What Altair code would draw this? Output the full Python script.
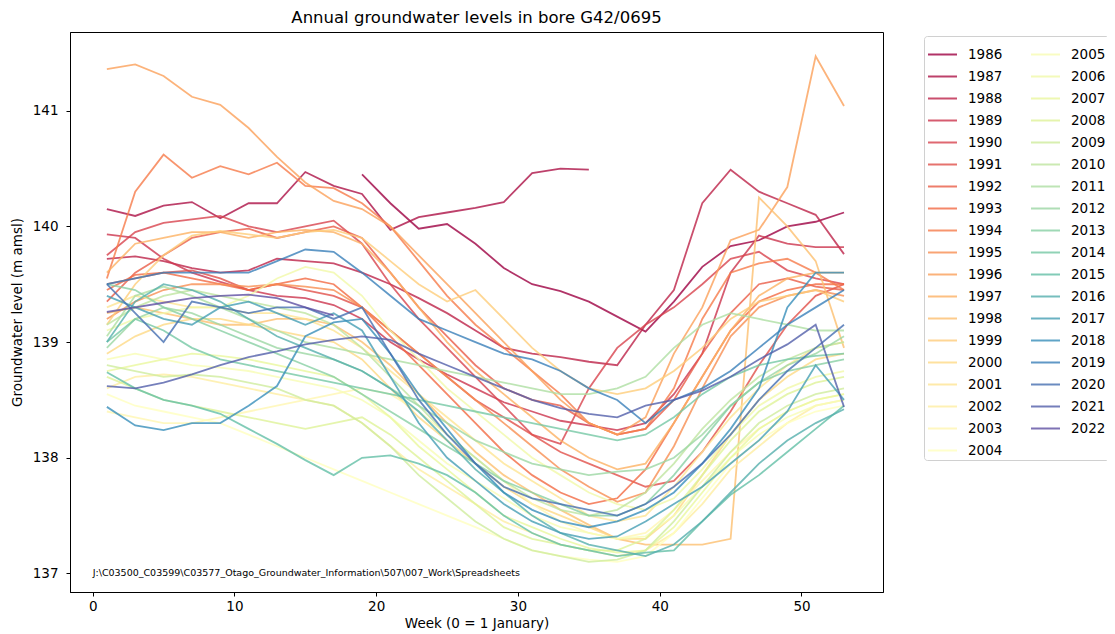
import altair as alt
import pandas as pd

WEEKS = [1, 3, 5, 7, 9, 11, 13, 15, 17, 19, 21, 23, 25, 27, 29, 31, 33, 35, 37, 39, 41, 43, 45, 47, 49, 51, 53]
YEARS = list(range(1986, 2023))

L1986 = [None]*9 + [140.45,140.2,139.98,140.02,139.85,139.64,139.5,139.44,139.35,139.22,139.09,139.35,139.65,139.83,139.88,140.0,140.04,140.12]
L1987 = [140.15,140.09,140.18,140.21,140.07,140.2,140.2,140.47,140.35,140.28,139.97,140.08,140.12,140.16,140.21,140.46,140.5,140.49] + [None]*9
L1988 = [139.72,139.74,139.7,139.64,139.6,139.62,139.72,139.7,139.68,139.6,139.5,139.38,139.25,139.1,138.95,138.9,138.87,138.83,138.8,139.15,139.45,140.2,140.49,140.3,140.2,140.1,139.76]
L1989 = [139.93,139.9,139.72,139.6,139.52,139.45,139.4,139.38,139.32,139.2,139.0,138.85,138.72,138.6,138.48,138.4,138.32,138.28,138.24,138.3,138.55,138.9,139.6,139.92,139.85,139.82,139.82]
L1990 = [139.75,139.95,140.03,140.06,140.09,140.0,139.95,140.0,140.05,139.85,139.5,139.2,138.95,138.7,138.45,138.2,138.12,138.6,138.95,139.15,139.3,139.5,139.72,139.78,139.62,139.55,139.5]
L1991 = [139.5,139.55,139.6,139.62,139.55,139.45,139.5,139.45,139.4,139.3,139.1,138.9,138.7,138.5,138.35,138.2,138.05,137.95,137.85,137.75,137.8,138.05,138.4,138.8,139.15,139.4,139.5]
L1992 = [139.35,139.6,139.75,139.9,139.95,139.98,139.9,139.95,140.0,139.9,139.6,139.3,139.05,138.8,138.6,138.5,138.45,138.3,138.2,138.25,138.5,138.9,139.25,139.5,139.55,139.48,139.45]
L1993 = [139.45,139.58,139.6,139.55,139.5,139.45,139.5,139.55,139.5,139.3,139.05,138.8,138.55,138.3,138.05,137.85,137.7,137.6,137.65,137.9,138.3,138.7,139.1,139.35,139.45,139.5,139.5]
L1994 = [139.55,140.3,140.62,140.42,140.52,140.45,140.55,140.35,140.33,140.2,140.0,139.7,139.4,139.15,138.95,138.75,138.55,138.3,138.2,138.25,138.6,139.2,139.6,139.68,139.72,139.6,139.45]
L1995 = [139.2,139.35,139.45,139.5,139.5,139.48,139.5,139.48,139.45,139.3,139.1,138.9,138.7,138.5,138.3,138.1,137.9,137.75,137.62,137.7,138.1,138.6,139.05,139.3,139.4,139.45,139.4]
L1996 = [141.36,141.4,141.3,141.12,141.05,140.85,140.6,140.38,140.22,140.15,140.0,139.75,139.5,139.25,139.0,138.75,138.5,138.3,138.2,138.35,138.9,139.3,139.88,139.97,140.34,141.47,141.04]
L1997 = [139.6,139.85,139.9,139.95,139.95,139.9,139.95,139.97,139.95,139.85,139.6,139.3,139.0,138.75,138.55,138.35,138.15,138.0,137.9,137.95,138.3,138.7,139.1,139.4,139.55,139.6,139.6]
L1998 = [139.25,139.3,139.25,139.2,139.15,139.15,139.2,139.2,139.15,139.0,138.8,138.55,138.3,138.05,137.85,137.7,137.55,137.42,137.3,137.25,137.25,137.25,137.3,140.25,140.0,139.7,138.95]
L1999 = [139.15,139.5,139.75,139.92,139.96,139.93,139.9,139.95,139.97,139.9,139.7,139.5,139.35,139.45,139.2,138.95,138.75,138.6,138.55,138.6,138.75,138.95,139.2,139.35,139.4,139.45,139.35]
L2000 = [138.9,139.05,139.15,139.2,139.2,139.15,139.1,139.05,139.0,138.85,138.6,138.35,138.15,137.95,137.75,137.6,137.5,137.4,137.3,137.3,137.5,137.85,138.2,138.5,138.7,138.85,138.9]
L2001 = [139.3,139.4,139.35,139.3,139.3,139.25,139.25,139.2,139.1,138.95,138.75,138.55,138.35,138.15,137.95,137.8,137.65,137.5,137.45,137.5,137.75,138.05,138.35,138.6,138.8,138.95,139.0]
L2002 = [138.6,138.7,138.72,138.7,138.65,138.6,138.55,138.5,138.45,138.3,138.1,137.9,137.75,137.6,137.45,137.35,137.25,137.2,137.15,137.2,137.35,137.6,137.9,138.1,138.3,138.45,138.5]
L2003 = [138.4,138.35,138.3,138.3,138.35,138.4,138.45,138.5,138.55,138.6,138.55,138.4,138.2,138.0,137.8,137.6,137.45,137.35,137.3,137.35,137.55,137.8,138.05,138.25,138.4,138.5,138.55]
L2004 = [138.55,138.45,138.4,138.35,138.3,138.2,138.1,138.0,137.9,137.8,137.7,137.6,137.5,137.4,137.3,137.2,137.15,137.12,137.1,137.15,137.35,137.65,137.95,138.15,138.3,138.4,138.45]
L2005 = [138.85,138.9,138.85,138.8,138.78,138.75,138.7,138.65,138.6,138.5,138.35,138.15,137.95,137.8,137.65,137.5,137.4,137.35,137.3,137.32,137.5,137.75,138.0,138.2,138.35,138.45,138.5]
L2006 = [139.1,139.2,139.25,139.3,139.3,139.4,139.55,139.65,139.6,139.4,139.1,138.85,138.6,138.4,138.2,138.0,137.85,137.7,137.6,137.55,137.65,137.9,138.2,138.45,138.6,138.7,138.75]
L2007 = [138.75,138.8,138.85,138.9,138.88,138.85,138.8,138.75,138.7,138.55,138.35,138.1,137.9,137.7,137.5,137.4,137.3,137.22,137.18,137.2,137.4,137.7,138.0,138.25,138.4,138.5,138.55]
L2008 = [138.7,138.6,138.5,138.45,138.4,138.35,138.3,138.25,138.3,138.35,138.2,138.0,137.8,137.6,137.4,137.3,137.25,137.2,137.2,137.3,137.55,137.85,138.15,138.4,138.55,138.65,138.7]
L2009 = [138.8,138.75,138.7,138.72,138.7,138.65,138.6,138.5,138.45,138.3,138.1,137.85,137.65,137.45,137.3,137.2,137.15,137.1,137.12,137.2,137.45,137.75,138.05,138.3,138.45,138.55,138.6]
L2010 = [139.15,139.3,139.4,139.45,139.4,139.35,139.3,139.25,139.15,138.95,138.7,138.45,138.2,138.0,137.8,137.65,137.55,137.5,137.55,137.7,137.95,138.25,138.5,138.7,138.85,138.95,139.0]
L2011 = [139.05,139.4,139.48,139.4,139.3,139.2,139.1,139.0,138.95,138.9,138.85,138.8,138.75,138.7,138.65,138.6,138.55,138.55,138.6,138.7,138.95,139.15,139.25,139.2,139.15,139.1,139.1]
L2012 = [138.95,139.2,139.3,139.25,139.15,139.05,138.95,138.9,138.85,138.75,138.6,138.45,138.3,138.15,138.05,137.95,137.9,137.85,137.88,137.9,138.0,138.2,138.45,138.65,138.8,138.9,139.05]
L2013 = [139.5,139.45,139.3,139.2,139.1,139.0,138.9,138.8,138.7,138.55,138.4,138.25,138.1,137.95,137.8,137.7,137.6,137.5,137.5,137.6,137.85,138.15,138.45,138.65,138.75,138.8,138.85]
L2014 = [139.0,139.2,139.1,138.95,138.85,138.8,138.75,138.7,138.65,138.6,138.55,138.5,138.45,138.4,138.35,138.3,138.25,138.2,138.15,138.2,138.35,138.55,138.7,138.8,138.85,138.88,138.9]
L2015 = [138.74,138.6,138.5,138.45,138.38,138.25,138.12,137.98,137.85,138.0,138.02,137.95,137.85,137.7,137.5,137.35,137.25,137.2,137.15,137.18,137.2,137.45,137.68,137.85,138.05,138.25,138.45]
L2016 = [139.0,139.35,139.5,139.45,139.35,139.2,139.05,138.95,138.85,138.75,138.6,138.4,138.15,137.9,137.7,137.5,137.35,137.25,137.2,137.15,137.25,137.45,137.7,137.95,138.15,138.3,138.42]
L2017 = [139.4,139.3,139.2,139.15,139.3,139.35,139.25,139.15,139.25,139.1,138.7,138.3,138.0,137.8,137.6,137.45,137.35,137.3,137.32,137.45,137.6,137.75,137.95,138.15,138.4,138.8,138.5]
L2018 = [138.44,138.28,138.24,138.3,138.3,138.45,138.62,139.05,139.17,139.2,138.9,138.55,138.25,137.95,137.7,137.55,137.45,137.4,137.45,137.55,137.7,137.95,138.25,138.6,139.3,139.6,139.6]
L2019 = [139.5,139.55,139.6,139.6,139.6,139.6,139.7,139.8,139.78,139.6,139.4,139.2,139.1,139.0,138.9,138.85,138.75,138.6,138.5,138.3,138.5,138.6,138.75,138.95,139.15,139.3,139.45]
L2020 = [139.5,139.25,139.0,139.35,139.3,139.25,139.3,139.3,139.2,139.3,138.9,138.5,138.2,137.95,137.75,137.65,137.6,137.55,137.5,137.6,137.75,137.95,138.2,138.5,138.75,138.95,139.15]
L2021 = [138.62,138.6,138.65,138.72,138.8,138.87,138.92,138.98,139.02,139.05,139.02,138.9,138.8,138.7,138.6,138.5,138.43,138.38,138.35,138.45,138.5,138.58,138.7,138.85,138.98,139.15,138.44]
L2022 = [139.26,139.3,139.34,139.38,139.4,139.41,139.38,139.3,139.23] + [None]*18

LEVELS = [L1986, L1987, L1988, L1989, L1990, L1991, L1992, L1993, L1994, L1995,
          L1996, L1997, L1998, L1999, L2000, L2001, L2002, L2003, L2004, L2005,
          L2006, L2007, L2008, L2009, L2010, L2011, L2012, L2013, L2014, L2015,
          L2016, L2017, L2018, L2019, L2020, L2021, L2022]

FOOTNOTE = "J:\\C03500_C03599\\C03577_Otago_Groundwater_Information\\507\\007_Work\\Spreadsheets"

# Spectral colormap anchors (ColorBrewer), sampled evenly over the years
SPECTRAL = ["#9e0142", "#d53e4f", "#f46d43", "#fdae61", "#fee08b", "#ffffbf",
            "#e6f598", "#abdda4", "#66c2a5", "#3288bd", "#5e4fa2"]


def hex2rgb(h):
    return [int(h[i:i + 2], 16) for i in (1, 3, 5)]


def spectral(t):
    pos = t * (len(SPECTRAL) - 1)
    k = min(int(pos), len(SPECTRAL) - 2)
    f = pos - k
    a, b = hex2rgb(SPECTRAL[k]), hex2rgb(SPECTRAL[k + 1])
    c = [round(a[j] + (b[j] - a[j]) * f) for j in range(3)]
    return "#%02x%02x%02x" % tuple(c)


n = len(YEARS)
COLORS = [spectral(i / (n - 1)) for i in range(n)]
YEAR_STR = [str(y) for y in YEARS]

rows = []
for y, vals in zip(YEARS, LEVELS):
    for w, v in zip(WEEKS, vals):
        if v is not None:
            rows.append({"year": str(y), "week": w, "level": v})
df = pd.DataFrame(rows)

FONT = "DejaVu Sans"

x = alt.X("week:Q", title="Week (0 = 1 January)",
          scale=alt.Scale(domain=[-1.6, 55.75], nice=False, zero=False),
          axis=alt.Axis(values=[0, 10, 20, 30, 40, 50], format="d"))
y = alt.Y("level:Q", title="Groundwater level (m amsl)",
          scale=alt.Scale(domain=[136.84, 141.68], nice=False, zero=False),
          axis=alt.Axis(values=[137, 138, 139, 140, 141], format="d"))

lines = alt.Chart(df).mark_line(strokeWidth=1.8, opacity=0.8).encode(
    x=x, y=y,
    color=alt.Color("year:N", title=None,
                    scale=alt.Scale(domain=YEAR_STR, range=COLORS),
                    legend=alt.Legend(columns=2, orient="none",
                                      legendX=854, legendY=4,
                                      symbolType="stroke", symbolSize=841,
                                      symbolStrokeWidth=2, symbolOpacity=0.8,
                                      labelFontSize=13.5, labelFont=FONT,
                                      labelColor="black",
                                      strokeColor="#d0d0d0", fillColor="white",
                                      padding=3, cornerRadius=3, rowPadding=0,
                                      columnPadding=24, labelOffset=10,
                                      symbolLimit=50)),
)

note_df = pd.DataFrame({"week": [0], "level": [137.0], "text": [FOOTNOTE]})
note = alt.Chart(note_df).mark_text(align="left", baseline="middle", fontSize=9.5,
                                    font=FONT, color="black").encode(
    x="week:Q", y="level:Q", text="text:N")

chart = alt.layer(lines, note).properties(
    width=813, height=560,
    title=alt.TitleParams("Annual groundwater levels in bore G42/0695", font=FONT,
                          fontSize=16.5, fontWeight="normal", color="black",
                          anchor="middle", offset=6),
    autosize=alt.AutoSizeParams(type="none"),
    padding={"left": 62, "top": 24, "right": 224, "bottom": 40},
).configure_view(stroke="black", strokeWidth=1).configure_axis(
    grid=False, domainColor="black", tickColor="black", labelColor="black",
    titleColor="black", labelFont=FONT, titleFont=FONT, labelFontSize=13.5,
    titleFontSize=13.5, titleFontWeight="normal", tickSize=4,
).configure_axisY(labelPadding=8, titlePadding=8).configure_axisX(labelPadding=3, titlePadding=4)

chart.save("out.html", embed_options={"renderer": "svg", "actions": False})
